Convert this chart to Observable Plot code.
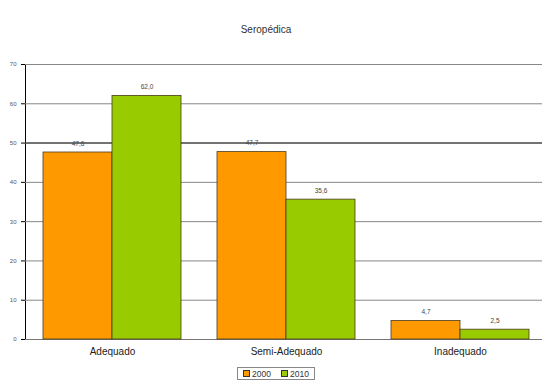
<!DOCTYPE html>
<html>
<head>
<meta charset="utf-8">
<script src="https://cdn.jsdelivr.net/npm/d3@7"></script>
<script src="https://cdn.jsdelivr.net/npm/@observablehq/plot@0.6"></script>
<style>
  html, body { margin: 0; padding: 0; background: #fff; overflow: hidden; }
  body { width: 542px; height: 382px; font-family: "Liberation Sans", Arial, sans-serif; }
  #title { height: 45px; box-sizing: border-box; padding-top: 24px; padding-right: 10px; text-align: center; font-size: 10px; color: #333; }
  #chart svg { display: block; overflow: visible; }
  #chart svg g[aria-label="y-axis tick label"] { font-size: 6px; fill: #555; }
  #chart svg g[aria-label="y-axis tick"] { stroke: #666; }
  #chart svg g[aria-label="fx-axis tick label"] { font-size: 10px; fill: #222; }
  #legend { display: flex; justify-content: center; padding-left: 10px; }
  #legend .box { display: flex; align-items: center; gap: 10px; border: 1px solid #888; padding: 1px 5px; font-size: 8.5px; color: #333; height: 13px; box-sizing: border-box; margin-top: 2px; }
  #legend .sw { display: inline-block; width: 5px; height: 5px; border: 1px solid #333; margin-right: 2px; }
  #legend .item { display: flex; align-items: center; }
</style>
</head>
<body>
<div id="title">Seropédica</div>
<div id="chart"></div>
<div id="legend"></div>
<script>
const categories = ["Adequado", "Semi-Adequado", "Inadequado"];
const years = ["2000", "2010"];
const values2000 = [47.6, 47.7, 4.7];
const values2010 = [62.0, 35.6, 2.5];
const yTicks = [0, 10, 20, 30, 40, 50, 60, 70];
const colors = ["#FF9900", "#99CC00"];

const data = [];
categories.forEach((c, i) => {
  data.push({category: c, year: years[0], value: values2000[i]});
  data.push({category: c, year: years[1], value: values2010[i]});
});
const fmt = v => v.toFixed(1).replace(".", ",");

const gridMarks = yTicks.filter(t => t > 0);

const chart = Plot.plot({
  width: 542,
  height: 320,
  marginLeft: 25,
  marginRight: -5,
  marginTop: 19,
  marginBottom: 26,
  style: {fontFamily: "Liberation Sans, Arial, sans-serif", background: "#fff", overflow: "visible"},
  fx: {domain: categories, paddingInner: 0, paddingOuter: 0, label: null, tickSize: 0, tickPadding: 8},
  x: {domain: years, paddingInner: 0, paddingOuter: 0.252, axis: null},
  y: {domain: [0, 70], ticks: yTicks, tickSize: 4, tickPadding: 5, label: null, line: true},
  color: {domain: years, range: colors},
  marks: [
    Plot.ruleY(gridMarks, {stroke: d => d === 50 ? "#444" : "#888", strokeWidth: d => d === 50 ? 1.4 : 1}),
    Plot.ruleY([0], {stroke: "#777"}),
    Plot.barY(data, {fx: "category", x: "year", y: "value", fill: "year", stroke: "#4a3a1a", strokeWidth: 0.8}),
    Plot.text(data, {fx: "category", x: "year", y: "value", text: d => fmt(d.value), dy: -9, fontSize: 6.5, fill: "#444"})
  ]
});
document.getElementById("chart").appendChild(chart);

const legend = document.getElementById("legend");
const box = document.createElement("div");
box.className = "box";
years.forEach((y, i) => {
  const item = document.createElement("span");
  item.className = "item";
  const sw = document.createElement("span");
  sw.className = "sw";
  sw.style.background = colors[i];
  item.appendChild(sw);
  item.appendChild(document.createTextNode(y));
  box.appendChild(item);
});
legend.appendChild(box);
</script>
</body>
</html>
